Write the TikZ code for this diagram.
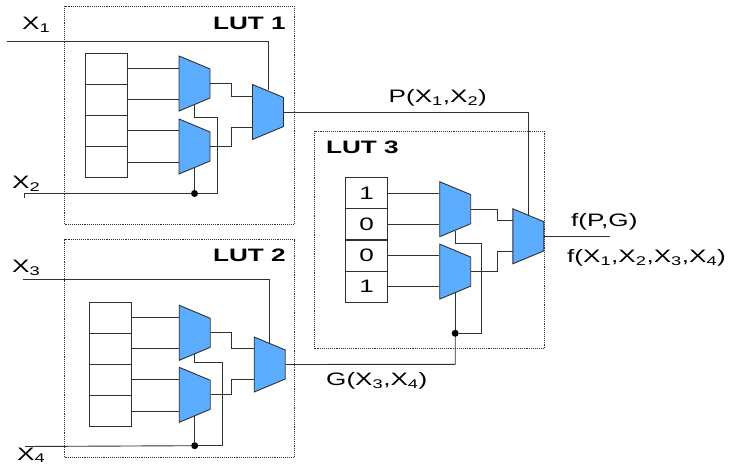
\documentclass[tikz,border=0pt]{standalone}
\usepackage{fontspec}
\setmainfont[FakeStretch=1.45]{Liberation Sans}
\usepackage{tikz}
\usetikzlibrary{shapes.geometric}
\definecolor{muxblue}{HTML}{5CADFF}
\definecolor{wiregray}{HTML}{303030}
\newcommand{\Xs}[1]{X\textsubscript{#1}}
\tikzset{
  wire/.style={draw=wiregray,line width=0.9pt},
  lutbox/.style={draw=wiregray,densely dotted,line width=0.9pt,inner sep=0,minimum width=229.5pt,minimum height=217.5pt},
  cell/.style={draw=wiregray,line width=0.9pt,inner sep=0,minimum width=42pt,minimum height=31pt,font=\fontsize{18}{20}\selectfont},
  mux/.style={trapezium,shape border rotate=270,trapezium stretches=true,trapezium left angle=66,trapezium right angle=66,draw=wiregray,line width=0.9pt,fill=muxblue,inner sep=1pt,minimum width=55pt,minimum height=31pt},
  dot/.style={circle,fill=black,inner sep=0,minimum size=7pt},
  lbl/.style={anchor=base west,inner sep=0,font=\fontsize{18}{20}\selectfont},
  lutlbl/.style={anchor=base west,inner sep=0,font=\fontsize{18}{20}\selectfont\bfseries}
}
\begin{document}
\begin{tikzpicture}[x=1pt,y=-1pt]
\useasboundingbox (0,0) rectangle (734,470);
\node[lutbox] (lut1) at (179.25,115.25) {};
\node[lutbox] (lut2) at (179.25,348.5) {};
\node[lutbox] (lut3) at (429.35,239.85) {};
\node[lbl] (x1) at (22,30) {\Xs{1}};
\node[lbl] (x2) at (12,189) {\Xs{2}};
\node[lbl] (x3) at (12,272.7) {\Xs{3}};
\node[lbl] (x4) at (17,460) {\Xs{4}};
\node[lutlbl] (l1) at (213,29.5) {LUT 1};
\node[lutlbl] (l2) at (213,261.7) {LUT 2};
\node[lutlbl] (l3) at (326,153.3) {LUT 3};
\node[lbl] (p) at (388.5,102.7) {P(\Xs{1},\Xs{2})};
\node[lbl] (g) at (326,386) {G(\Xs{3},\Xs{4})};
\node[lbl] (fpg) at (571,226.7) {f(P,G)};
\node[lbl] (fx) at (567,262.7) {f(\Xs{1},\Xs{2},\Xs{3},\Xs{4})};
% cells
\node[cell] (c11) at (106,68.5) {};
\node[cell] (c12) at (106,99.7) {};
\node[cell] (c13) at (106,130.9) {};
\node[cell] (c14) at (106,162.1) {};
\node[cell] (c21) at (110.3,317.6) {};
\node[cell] (c22) at (110.3,348.7) {};
\node[cell] (c23) at (110.3,379.8) {};
\node[cell] (c24) at (110.3,411) {};
\node[cell] (c31) at (366.7,193.3) {1};
\node[cell] (c32) at (366.7,224.4) {0};
\node[cell] (c33) at (366.7,255.5) {0};
\node[cell] (c34) at (366.7,286.6) {1};
% free ends
\coordinate (x1in) at (7,41);
\coordinate (x2in) at (24,198);
\coordinate (x3in) at (23,279);
\coordinate (x4in) at (25,446.5);
\coordinate (i131) at (252.5,96);
\coordinate (i132) at (252.5,127);
\coordinate (i231) at (254,348.7);
\coordinate (i232) at (254,379.3);
\coordinate (i331) at (513,220.7);
\coordinate (i332) at (513,251);
\coordinate (t1) at (217,117);
\coordinate (t2) at (222.3,362.3);
\coordinate (t3) at (481.3,243.7);
\coordinate (p1) at (528.4,112);
\coordinate (g1) at (455.2,364.3);
\coordinate (out) at (610,236.3);
% muxes
\node[mux] (m11) at (194.5,83.5) {};
\node[mux] (m12) at (194.5,146.5) {};
\node[mux] (m13) at (268,112) {};
\node[mux] (m21) at (194.7,332.8) {};
\node[mux] (m22) at (194.7,394.8) {};
\node[mux] (m23) at (269.7,364.5) {};
\node[mux] (m31) at (455.2,209.2) {};
\node[mux] (m32) at (455.2,271.6) {};
\node[mux] (m33) at (528.4,236.3) {};
\node[dot] (d1) at (194.5,193.5) {};
\node[dot] (d2) at (194.7,445.7) {};
\node[dot] (d3) at (455.2,333.3) {};
% wires
\draw[wire] (c11.east) -- (c11.east -| m11.west);
\draw[wire] (c12.east) -- (c12.east -| m11.west);
\draw[wire] (c13.east) -- (c13.east -| m12.west);
\draw[wire] (c14.east) -- (c14.east -| m12.west);
\draw[wire] (c21.east) -- (c21.east -| m21.west);
\draw[wire] (c22.east) -- (c22.east -| m21.west);
\draw[wire] (c23.east) -- (c23.east -| m22.west);
\draw[wire] (c24.east) -- (c24.east -| m22.west);
\draw[wire] (c31.east) -- (c31.east -| m31.west);
\draw[wire] (c32.east) -- (c32.east -| m31.west);
\draw[wire] (c33.east) -- (c33.east -| m32.west);
\draw[wire] (c34.east) -- (c34.east -| m32.west);
\draw[wire] (x1in) -| (m13.north);
\draw[wire] (x2in) |- (d1);
\draw[wire] (x3in) -| (m23.north);
\draw[wire] (x4in) -- (d2);
\draw[wire] (m12.south) -- (d1);
\draw[wire] (m22.south) -- (d2);
\draw[wire] (m32.south) -- (d3);
\draw[wire] (m11.south) |- (t1) |- (d1);
\draw[wire] (m21.south) |- (t2) |- (d2);
\draw[wire] (m31.south) |- (t3) |- (d3);
\draw[wire] (m11.east) -- ++(21,0) |- (i131);
\draw[wire] (m12.east) -- ++(21,0) |- (i132);
\draw[wire] (m21.east) -- ++(21,0) |- (i231);
\draw[wire] (m22.east) -- ++(21,0) |- (i232);
\draw[wire] (m31.east) -- ++(26,0) |- (i331);
\draw[wire] (m32.east) -- ++(26,0) |- (i332);
\draw[wire] (m13.east) -- (m13.east |- p1) -- (p1) -- (m33.north);
\draw[wire] (m23.east) -- (g1) -- (d3);
\draw[wire] (m33.east) -- (out);
\end{tikzpicture}
\end{document}
